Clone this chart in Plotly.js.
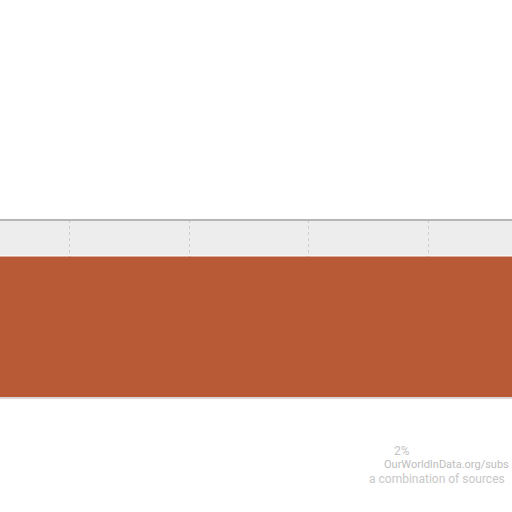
<!DOCTYPE html>
<html>
<head>
<meta charset="utf-8">
<script src="https://cdn.plot.ly/plotly-3.0.1.min.js"></script>
<style>html,body{margin:0;padding:0;background:#fff;}#chart{width:512px;height:512px;}</style>
</head>
<body>
<div id="chart"></div>
<script>
// Data
const rowCategories = ['Row'];
const greyValues = [100];
const orangeValues = [100];
const gridTicks = [20, 40, 60, 80];
const labelText = '2%';
const sourceLines = ['OurWorldInData.org/subs', 'a combination of sources'];

const traces = [
  {
    type: 'bar', orientation: 'h',
    x: greyValues, y: rowCategories,
    xaxis: 'x', yaxis: 'y2',
    marker: {color: 'rgba(215,215,215,0.45)'},
    hoverinfo: 'skip', showlegend: false
  },
  {
    type: 'bar', orientation: 'h',
    x: orangeValues, y: rowCategories,
    xaxis: 'x', yaxis: 'y',
    marker: {color: '#b85a36'},
    hoverinfo: 'skip', showlegend: false
  }
];

const layout = {
  width: 512, height: 512,
  margin: {l: 0, r: 0, t: 220, b: 114, pad: 0},
  paper_bgcolor: '#ffffff',
  plot_bgcolor: '#ffffff',
  bargap: 0,
  showlegend: false,
  xaxis: {
    range: [8.3, 94],
    tickvals: gridTicks,
    showticklabels: false,
    ticks: '',
    showgrid: true,
    gridcolor: '#c6c6c6',
    griddash: '3px,3px',
    gridwidth: 1,
    zeroline: false,
    showline: false,
    anchor: 'y'
  },
  yaxis: {
    domain: [0, 0.795],
    showticklabels: false, ticks: '', showgrid: false, zeroline: false, showline: false
  },
  yaxis2: {
    domain: [0.8, 1],
    showticklabels: false, ticks: '', showgrid: false, zeroline: false, showline: false
  },
  shapes: [
    {type: 'line', xref: 'paper', yref: 'paper', x0: 0, x1: 1, y0: 1, y1: 1,
     line: {color: '#b5b5b5', width: 2}},
    {type: 'line', xref: 'paper', yref: 'paper', x0: 0, x1: 1, y0: 0, y1: 0,
     line: {color: '#d8d8d8', width: 2}}
  ],
  annotations: [
    {text: labelText, xref: 'paper', yref: 'paper', x: 0.785, y: -0.295,
     xanchor: 'center', yanchor: 'middle', showarrow: false,
     font: {family: 'Roboto, sans-serif', size: 12, color: '#c4c4c4'}},
    {text: sourceLines[0], xref: 'paper', yref: 'paper', x: 0.998, y: -0.375,
     xanchor: 'right', yanchor: 'middle', showarrow: false,
     font: {family: 'Roboto, sans-serif', size: 11, color: '#bdbdbd'}},
    {text: sourceLines[1], xref: 'paper', yref: 'paper', x: 0.99, y: -0.455,
     xanchor: 'right', yanchor: 'middle', showarrow: false,
     font: {family: 'Roboto, sans-serif', size: 12, color: '#c8c8c8'}}
  ]
};

Plotly.newPlot('chart', traces, layout, {displayModeBar: false, staticPlot: true});
</script>
</body>
</html>
